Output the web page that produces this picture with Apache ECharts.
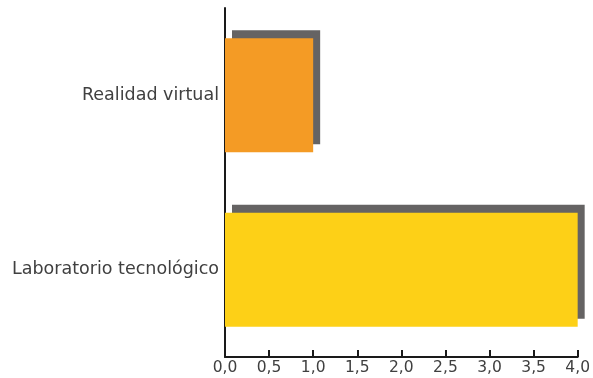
<!DOCTYPE html>
<html>
<head>
<meta charset="utf-8">
<script src="https://cdn.jsdelivr.net/npm/echarts@6/dist/echarts.min.js"></script>
<style>
  html, body { margin: 0; padding: 0; background: #ffffff; }
  #chart { width: 593px; height: 378px; }
</style>
</head>
<body>
<div id="chart"></div>
<script>
// Categories listed bottom to top, as the category axis draws them
const categories = ['Laboratorio tecnológico', 'Realidad virtual'];
const values = [4.0, 1.0];
const barColors = ['#FDD017', '#F49B25'];
const xTicks = [0, 0.5, 1, 1.5, 2, 2.5, 3, 3.5, 4];

const chart = echarts.init(document.getElementById('chart'));
const fontFamily = '"DejaVu Sans", "Open Sans", sans-serif';

chart.setOption({
  animation: false,
  backgroundColor: '#ffffff',
  grid: { left: 225, right: 15, top: 8, bottom: 21, containLabel: false },
  xAxis: {
    type: 'value',
    min: xTicks[0],
    max: xTicks[xTicks.length - 1],
    interval: 0.5,
    splitLine: { show: false },
    axisLine: { show: true, lineStyle: { color: '#1a1a1a', width: 2 } },
    axisTick: { show: true, inside: true, length: 7, lineStyle: { color: '#1a1a1a', width: 2 } },
    axisLabel: {
      margin: 3,
      color: '#404040',
      fontSize: 15.5,
      fontFamily: fontFamily,
      formatter: v => v.toFixed(1).replace('.', ',')
    }
  },
  yAxis: {
    type: 'category',
    data: categories,
    axisLine: { show: true, lineStyle: { color: '#1a1a1a', width: 2 } },
    axisTick: { show: false },
    axisLabel: {
      margin: 6,
      padding: [6, 0, 0, 0],
      color: '#404040',
      fontSize: 17.5,
      fontFamily: fontFamily
    }
  },
  series: [{
    type: 'bar',
    barWidth: 114,
    data: values.map((v, i) => ({
      value: v,
      itemStyle: {
        color: barColors[i],
        shadowColor: '#656363',
        shadowBlur: 0,
        shadowOffsetX: 7,
        shadowOffsetY: -8
      }
    }))
  }]
});
</script>
</body>
</html>
